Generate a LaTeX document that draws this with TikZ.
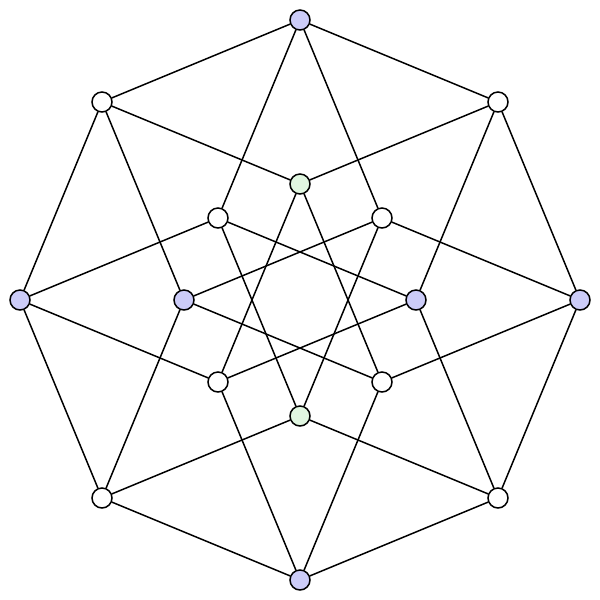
\documentclass[tikz,border=0pt]{standalone}
\definecolor{nblue}{HTML}{CCCCF8}
\definecolor{ngreen}{HTML}{E0F6E0}
\tikzset{
  vtx/.style={circle,draw=black,line width=0.85pt,fill=white,minimum size=20*0.02cm,inner sep=0pt},
  bv/.style={vtx,fill=nblue},
  gv/.style={vtx,fill=ngreen},
  edge/.style={line width=0.85pt,draw=black}
}
\begin{document}
\begin{tikzpicture}[x=0.02cm,y=-0.02cm]
\useasboundingbox (0,0) rectangle (600,600);
% outer
\node[bv]  (pppp) at (300,20) {};
\node[vtx] (pppm) at (498,102) {};
\node[bv]  (ppmm) at (580,300) {};
\node[vtx] (pmmm) at (498,498) {};
\node[bv]  (mmmm) at (300,580) {};
\node[vtx] (mmmp) at (102,498) {};
\node[bv]  (mmpp) at (20,300) {};
\node[vtx] (mppp) at (102,102) {};
% inner
\node[gv]  (mppm) at (300,184) {};
\node[vtx] (ppmp) at (382,218) {};
\node[bv]  (pmpm) at (416,300) {};
\node[vtx] (mpmm) at (382,382) {};
\node[gv]  (pmmp) at (300,416) {};
\node[vtx] (mmpm) at (218,382) {};
\node[bv]  (mpmp) at (184,300) {};
\node[vtx] (pmpp) at (218,218) {};
\begin{scope}[on background layer/.style={}]
\foreach \a/\b in {
 pppp/pppm, pppp/ppmp, pppp/pmpp, pppp/mppp,
 pppm/ppmm, pppm/pmpm, pppm/mppm,
 ppmp/ppmm, ppmp/pmmp, ppmp/mpmp,
 ppmm/pmmm, ppmm/mpmm,
 pmpp/pmpm, pmpp/pmmp, pmpp/mmpp,
 pmpm/pmmm, pmpm/mmpm,
 pmmp/pmmm, pmmp/mmmp,
 pmmm/mmmm,
 mppp/mppm, mppp/mpmp, mppp/mmpp,
 mppm/mpmm, mppm/mmpm,
 mpmp/mpmm, mpmp/mmmp,
 mpmm/mmmm,
 mmpp/mmpm, mmpp/mmmp,
 mmpm/mmmm,
 mmmp/mmmm}
 \draw[edge] (\a) -- (\b);
\end{scope}
\end{tikzpicture}
\end{document}
